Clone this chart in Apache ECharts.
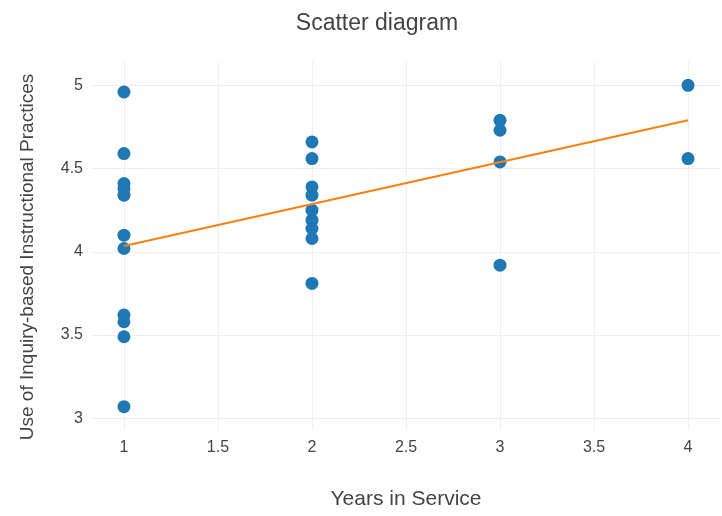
<!DOCTYPE html>
<html>
<head>
<meta charset="utf-8">
<script src="https://cdn.jsdelivr.net/npm/echarts@6/dist/echarts.min.js"></script>
<style>
  html, body { margin: 0; padding: 0; background: #fff; }
  #chart { width: 722px; height: 516px; }
</style>
</head>
<body>
<div id="chart"></div>
<script>
// Data
const yearsInService = [
  1, 1, 1, 1, 1, 1, 1, 1, 1, 1, 1,
  2, 2, 2, 2, 2, 2, 2, 2, 2,
  3, 3, 3, 3,
  4, 4
];
const inquiryPractices = [
  4.96, 4.59, 4.41, 4.38, 4.34, 4.10, 4.02, 3.62, 3.58, 3.49, 3.07,
  4.66, 4.56, 4.39, 4.34, 4.25, 4.19, 4.14, 4.08, 3.81,
  4.79, 4.73, 4.54, 3.92,
  5.00, 4.56
];
const trendX = [1, 4];
const trendY = [4.035, 4.79];

const scatterData = yearsInService.map((x, i) => [x, inquiryPractices[i]]);
const trendData = trendX.map((x, i) => [x, trendY[i]]);

const chart = echarts.init(document.getElementById('chart'), null, { renderer: 'canvas' });
const font = 'Arial, "Liberation Sans", Helvetica, sans-serif';
chart.setOption({
  animation: false,
  backgroundColor: '#ffffff',
  title: {
    text: 'Scatter diagram',
    left: 372,
    textAlign: 'center',
    top: 7,
    textStyle: { fontFamily: font, fontSize: 23, fontWeight: 'normal', color: '#444' }
  },
  grid: { left: 92, right: 2, top: 62, bottom: 86, containLabel: false },
  xAxis: {
    type: 'value',
    min: 0.83,
    max: 4.17,
    splitNumber: 7,
    name: 'Years in Service',
    nameLocation: 'middle',
    nameGap: 59,
    nameTextStyle: { fontFamily: font, fontSize: 21, color: '#444' },
    axisLine: { show: false },
    axisTick: { show: false },
    axisLabel: {
      showMinLabel: false, showMaxLabel: false,
      margin: 10,
      fontFamily: font, fontSize: 16, color: '#444'
    },
    splitLine: { show: true, showMinLine: false, showMaxLine: false, lineStyle: { color: '#eeeeee', width: 1 } }
  },
  yAxis: {
    type: 'value',
    min: 2.93,
    max: 5.14,
    splitNumber: 5,
    name: 'Use of Inquiry-based Instructional Practices',
    nameLocation: 'middle',
    nameGap: 55,
    nameTextStyle: { fontFamily: font, fontSize: 19, color: '#444', padding: [0, 22, 0, 0] },
    axisLine: { show: false },
    axisTick: { show: false },
    axisLabel: {
      showMinLabel: false, showMaxLabel: false,
      margin: 9,
      fontFamily: font, fontSize: 16, color: '#444'
    },
    splitLine: { show: true, showMinLine: false, showMaxLine: false, lineStyle: { color: '#eeeeee', width: 1 } }
  },
  series: [
    {
      type: 'scatter',
      data: scatterData,
      symbolSize: 13,
      itemStyle: { color: '#1f77b4', opacity: 1 },
      z: 2
    },
    {
      type: 'line',
      data: trendData,
      showSymbol: false,
      symbol: 'none',
      lineStyle: { color: '#ff7f0e', width: 2 },
      z: 3
    }
  ]
});
</script>
</body>
</html>
